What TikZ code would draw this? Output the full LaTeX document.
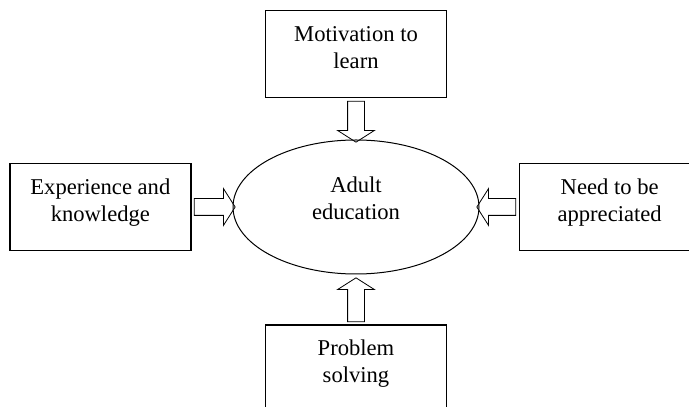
\documentclass[tikz,border=0pt]{standalone}
\usepackage{fontspec}
\setmainfont{Liberation Serif}
\usetikzlibrary{shapes.geometric,shapes.arrows,positioning}
\tikzstyle{block} = [draw, rectangle, line width=1.3pt, minimum width=181pt, minimum height=87pt, inner sep=0pt, align=center, text depth=14pt, font=\fontsize{22.6}{27}\selectfont]
\tikzstyle{hub} = [draw, ellipse, line width=1pt, minimum width=246pt, minimum height=134pt, inner sep=0pt, align=center, text depth=17pt, font=\fontsize{22.6}{27}\selectfont]
\tikzstyle{fat} = [draw, single arrow, line width=0.8pt, inner xsep=0pt, inner ysep=8pt, minimum width=36pt, single arrow head extend=10pt, single arrow tip angle=115, sloped, allow upside down]
\begin{document}
\begin{tikzpicture}

\useasboundingbox (0,0) rectangle (689pt,407pt);

\node [hub] (edu) at (356pt,200pt) {Adult\\education};
\node [block, above=41pt of edu] (motiv) {Motivation to\\learn};
\node [block, left=41pt of edu] (exper) {Experience and\\knowledge};
\node [block, right=39pt of edu] (appr) {Need to be\\appreciated};
\node [block, below=50pt of edu] (prob) {Problem\\solving};

\path (motiv.south) -- node [fat, minimum height=41pt] {} (edu.north);
\path (exper.east) -- node [fat, minimum height=41pt] {} (edu.west);
\path (appr.west) -- node [fat, minimum height=39pt] {} (edu.east);
\path (prob.north) -- node [fat, minimum height=44pt] {} ([yshift=-6pt]edu.south);

\end{tikzpicture}
\end{document}
